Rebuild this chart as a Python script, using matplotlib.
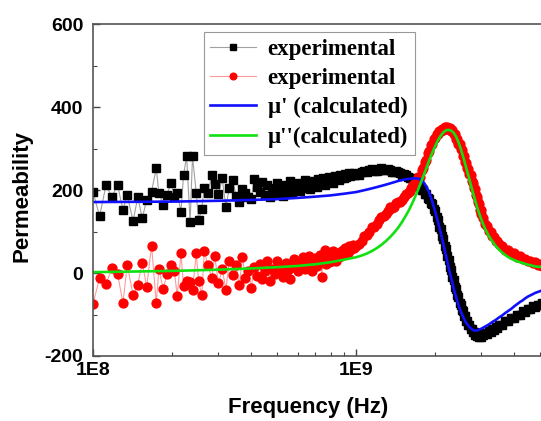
import numpy as np
import matplotlib
matplotlib.use("Agg")
from matplotlib import pyplot as plt
from matplotlib.ticker import LogLocator, NullFormatter, MultipleLocator

# ---- data ----
# low frequency part (individual noisy points), Hz
f_low = [1.00e8, 1.06e8, 1.12e8, 1.18e8, 1.24e8, 1.30e8, 1.35e8, 1.42e8, 1.48e8, 1.54e8,
         1.60e8, 1.67e8, 1.74e8, 1.78e8, 1.85e8, 1.91e8, 1.98e8, 2.04e8, 2.09e8, 2.16e8,
         2.21e8, 2.27e8, 2.34e8, 2.39e8, 2.47e8, 2.52e8, 2.59e8, 2.65e8, 2.73e8, 2.83e8]
mu1_low = [195, 137, 211, 184, 212, 152, 188, 125, 183, 132,
           177, 196, 253, 192, 165, 189, 216, 183, 192, 148,
           237, 281, 122, 281, 192, 127, 155, 205, 192, 235]
mu2_low = [-75, -11, -27, 11, -3, -72, 20, -54, -28, 25,
           -34, 66, -72, 9, -38, -3, 20, 5, -56, 47,
           -31, -19, -22, -40, 47, -19, -54, 53, 20, -13]

# mid part 2.9E8 .. 9.9E8
f_mid = [2.9e8, 3.0e8, 3.1e8, 3.2e8, 3.3e8, 3.4e8, 3.5e8, 3.6e8, 3.7e8, 3.8e8, 3.9e8,
         4.0e8, 4.1e8, 4.2e8, 4.3e8, 4.4e8, 4.5e8, 4.6e8, 4.7e8, 4.8e8, 4.9e8,
         5.0e8, 5.1e8, 5.2e8, 5.3e8, 5.4e8, 5.5e8, 5.6e8, 5.7e8, 5.8e8, 5.9e8,
         6.0e8, 6.1e8, 6.2e8, 6.3e8, 6.4e8, 6.5e8, 6.6e8, 6.7e8, 6.8e8, 6.9e8,
         7.0e8, 7.1e8, 7.2e8, 7.3e8, 7.4e8, 7.5e8, 7.6e8, 7.7e8, 7.8e8, 7.9e8,
         8.0e8, 8.1e8, 8.2e8, 8.3e8, 8.4e8, 8.5e8, 8.6e8, 8.7e8, 8.8e8, 8.9e8,
         9.0e8, 9.1e8, 9.2e8, 9.3e8, 9.4e8, 9.5e8, 9.6e8, 9.7e8, 9.8e8, 9.9e8]
mu1_mid = [215, 190, 228, 160, 205, 223, 186, 171, 203, 192, 184,
           178, 226, 208, 196, 220, 188, 212, 182, 205, 197,
           216, 190, 207, 186, 211, 199, 222, 193, 209, 203,
           217, 198, 213, 205, 224, 209, 215, 203, 221, 212,
           218, 208, 226, 214, 221, 230, 212, 224, 219, 232,
           222, 228, 218, 234, 226, 231, 224, 237, 229, 233,
           228, 238, 231, 236, 240, 233, 239, 236, 241, 235]
mu2_mid = [42, -25, 10, -40, 30, -5, 20, -30, 38, -12, 5,
           -36, 14, -8, 22, -15, 6, 28, -20, 10, -3,
           30, 2, 18, -10, 24, 8, -14, 20, 34, 12,
           5, 26, 15, 38, 10, 22, 40, 16, 6, 28,
           35, 18, 25, 44, -10, 30, 56, 22, 33, 26,
           40, 30, 52, 36, 28, 45, 38, 50, 42, 56,
           46, 60, 52, 48, 64, 55, 58, 68, 60, 64]

# high part 1.0E9 .. 5.1E9
f_high = [1.000e9, 1.025e9, 1.050e9, 1.075e9, 1.100e9, 1.125e9, 1.150e9, 1.175e9,
          1.200e9, 1.225e9, 1.250e9, 1.275e9, 1.300e9, 1.325e9, 1.350e9, 1.375e9,
          1.400e9, 1.425e9, 1.450e9, 1.475e9, 1.500e9, 1.525e9, 1.550e9, 1.575e9,
          1.600e9, 1.625e9, 1.650e9, 1.675e9,
          1.700e9, 1.725e9, 1.750e9, 1.775e9, 1.800e9, 1.825e9, 1.850e9, 1.875e9, 1.900e9,
          1.925e9, 1.950e9, 1.975e9, 2.000e9, 2.025e9, 2.050e9, 2.075e9, 2.100e9, 2.125e9,
          2.150e9, 2.175e9, 2.200e9, 2.225e9, 2.250e9, 2.275e9, 2.300e9, 2.325e9, 2.350e9,
          2.375e9, 2.400e9, 2.425e9, 2.450e9, 2.475e9, 2.500e9, 2.525e9, 2.550e9, 2.575e9,
          2.600e9, 2.625e9, 2.650e9, 2.675e9, 2.700e9, 2.725e9, 2.750e9, 2.775e9, 2.800e9,
          2.825e9, 2.850e9, 2.875e9, 2.900e9, 2.925e9, 2.950e9, 2.975e9, 3.000e9,
          3.05e9, 3.1e9, 3.15e9, 3.2e9, 3.25e9, 3.3e9, 3.35e9, 3.4e9, 3.45e9, 3.5e9,
          3.6e9, 3.7e9, 3.8e9, 3.9e9, 4.0e9,
          4.1e9, 4.2e9, 4.3e9, 4.4e9, 4.5e9, 4.6e9, 4.7e9, 4.8e9, 4.9e9, 5.0e9, 5.1e9]
mu1_high = [238, 236, 243, 246, 244, 247, 250, 246,
            246, 249, 252, 247, 247, 250, 248, 244,
            243, 246, 244, 240, 237, 239, 236, 232,
            228, 229, 224, 220,
            216, 209, 210, 201, 201, 191, 190, 180, 179,
            168, 166, 154, 150, 134, 128, 112, 105, 88,
            81, 64, 57, 40, 32, 14, 7, -10, -17,
            -33, -39, -54, -59, -73, -76, -89, -91, -103,
            -104, -115, -116, -126, -126, -136, -135, -143, -141,
            -149, -146, -152, -148, -154, -149, -154, -148,
            -150, -144, -146, -140, -142, -136, -138, -131, -133, -126,
            -125, -116, -116, -108, -108,
            -100, -100, -92, -93, -86, -87, -80, -82, -76, -78, -72]
mu2_high = [66, 70, 78, 88, 92, 100, 110, 112,
            118, 128, 136, 138, 142, 150, 158, 156,
            160, 168, 172, 170, 176, 184, 190, 192,
            197, 205, 212, 216,
            222, 231, 232, 247, 253, 268, 273, 288, 293,
            308, 312, 324, 326, 336, 335, 343, 341, 348,
            345, 351, 347, 352, 346, 349, 342, 344, 335,
            335, 324, 323, 312, 310, 298, 296, 283, 281,
            268, 266, 253, 251, 238, 235, 221, 218, 205,
            202, 188, 184, 170, 166, 153, 151, 142,
            133, 118, 114, 101, 100, 88, 87, 78, 77, 69,
            66, 56, 55, 47, 47,
            39, 40, 33, 34, 28, 30, 24, 26, 20, 22, 17]

# calculated curves
f_calc = [1e8, 2e8, 3e8, 4e8, 5e8, 6e8, 7e8, 8e8, 9e8,
          1.00e9, 1.05e9, 1.10e9, 1.15e9, 1.20e9, 1.25e9, 1.30e9, 1.35e9, 1.40e9, 1.45e9,
          1.50e9, 1.55e9, 1.60e9, 1.65e9, 1.70e9, 1.75e9, 1.80e9, 1.85e9, 1.90e9, 1.95e9,
          2.00e9, 2.05e9, 2.10e9, 2.15e9, 2.20e9, 2.25e9, 2.30e9, 2.35e9, 2.40e9, 2.45e9,
          2.50e9, 2.55e9, 2.60e9, 2.65e9, 2.70e9, 2.75e9, 2.80e9, 2.85e9, 2.90e9, 2.95e9,
          3.00e9, 3.1e9, 3.2e9, 3.3e9, 3.4e9, 3.5e9, 3.6e9, 3.7e9, 3.8e9, 3.9e9, 4.0e9,
          4.1e9, 4.2e9, 4.3e9, 4.4e9, 4.5e9, 4.6e9, 4.7e9, 4.8e9, 4.9e9, 5.0e9, 5.1e9]
mu1_calc = [171, 172, 174, 176, 178, 181, 184, 187, 191,
            195, 198, 201, 204, 207, 210, 213, 216, 219, 222,
            224, 226, 227, 228, 228, 226, 220, 209, 193, 172,
            148, 123, 97, 69, 41, 13, -12, -36, -57, -76,
            -92, -105, -116, -124, -130, -135, -138, -139, -138, -136,
            -134, -129, -124, -118, -113, -107, -102, -96, -91, -86, -80,
            -75, -70, -66, -61, -57, -54, -51, -48, -46, -44, -42]
mu2_calc = [2, 5, 8, 11, 14, 17, 21, 26, 32,
            38, 42, 47, 53, 60, 68, 77, 87, 98, 110,
            124, 139, 155, 173, 192, 212, 232, 252, 272, 290,
            306, 320, 331, 339, 344, 345, 343, 338, 329, 316,
            300, 282, 263, 244, 225, 206, 188, 171, 155, 141,
            128, 106, 89, 76, 65, 56, 49, 43, 38, 34, 31,
            28, 26, 24, 22, 20, 19, 17, 16, 15, 15, 14]

freq_exp = f_low + f_mid + f_high
mu1_exp = mu1_low + mu1_mid + mu1_high
mu2_exp = mu2_low + mu2_mid + mu2_high

plt.rcParams['font.family'] = ['Liberation Sans', 'DejaVu Sans']
plt.rcParams['font.weight'] = 'bold'
plt.rcParams['axes.unicode_minus'] = False

fig = plt.figure(figsize=(5.41, 4.21), dpi=100)
ax = fig.add_axes([93/541, 1 - 356/421, 448/541, 332/421])

ax.plot(freq_exp, mu1_exp, color="#a0a0a0", lw=0.8, marker="s", ms=5.6,
        mfc="black", mec="black", label="experimental")
ax.plot(freq_exp, mu2_exp, color="#ff9a9a", lw=0.8, marker="o", ms=6.4,
        mfc="red", mec="red", label="experimental")
ax.plot(f_calc, mu1_calc, color="#1010ff", lw=1.9, label="\u03bc' (calculated)")
ax.plot(f_calc, mu2_calc, color="#10e010", lw=1.9, label="\u03bc''(calculated)")

ax.set_xscale("log")
ax.set_xlim(1e8, 10 ** (8 + 448 / 263))
ax.set_ylim(-200, 600)
ax.set_xticks([1e8, 1e9])
ax.set_xticklabels(["1E8", "1E9"])
ax.xaxis.set_minor_locator(LogLocator(base=10, subs=range(2, 10)))
ax.xaxis.set_minor_formatter(NullFormatter())
ax.set_yticks([-200, 0, 200, 400, 600])
ax.yaxis.set_minor_locator(MultipleLocator(100))

ax.tick_params(which="both", direction="in", colors="#444444", labelcolor="black",
               labelsize=14)
ax.tick_params(which="major", length=5, width=1)
ax.tick_params(which="minor", length=3, width=0.8)
ax.tick_params(axis="y", pad=7)
ax.tick_params(axis="x", pad=4)

for side in ["left", "bottom", "top"]:
    ax.spines[side].set_color("#555555")
    ax.spines[side].set_linewidth(1.2)
ax.spines["right"].set_visible(False)

fig.text(308/541, 1 - 408/421, "Frequency (Hz)", ha="center", va="center",
         fontsize=16, fontweight="bold")
fig.text(22/541, 1 - 196/421, "Permeability", ha="center", va="center",
         rotation=90, fontsize=16, fontweight="bold")

leg = ax.legend(loc="upper left", bbox_to_anchor=(0.2467, 0.977), borderaxespad=0,
                prop={"family": "Liberation Serif", "weight": "bold", "size": 16.5},
                fancybox=False, edgecolor="#999999", framealpha=1, numpoints=1,
                markerscale=0.75, handlelength=2.0, handletextpad=0.5,
                labelspacing=0.36, borderpad=0.3)
leg.get_frame().set_linewidth(0.8)

fig.savefig("out.png", dpi=100)
